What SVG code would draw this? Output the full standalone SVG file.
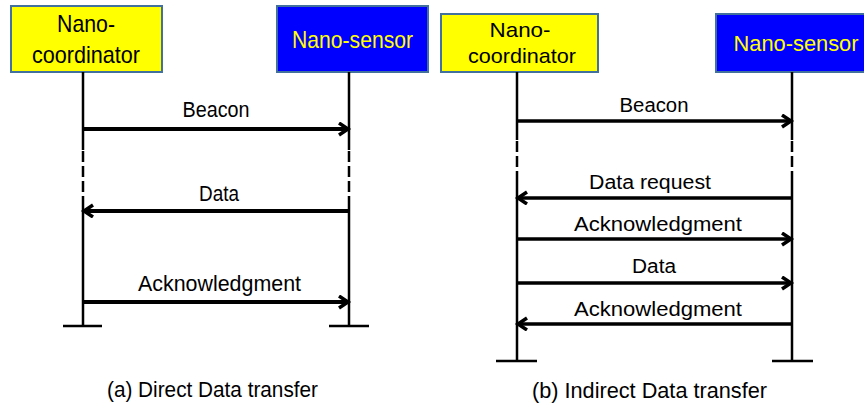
<svg xmlns="http://www.w3.org/2000/svg" width="864" height="410" viewBox="0 0 864 410">
<defs>
<style>
.t{font-family:"Liberation Sans",Arial,sans-serif;fill:#000;text-anchor:middle}
.y{fill:#ffff00;stroke:#41719c;stroke-width:2}
.b{fill:#0000ff;stroke:#41719c;stroke-width:2}
.ty{fill:#ffff00}
.life{stroke:#000;stroke-width:2.5;fill:none}
.dash{stroke:#000;stroke-width:2.5;fill:none;stroke-dasharray:11 4}
.msg{stroke:#000;stroke-width:4;fill:none;marker-end:url(#ah)}
.msg2{stroke:#000;stroke-width:3.5;fill:none;marker-end:url(#ah)}
.bar{stroke:#000;stroke-width:2.5}
</style>
<marker id="ah" markerUnits="userSpaceOnUse" markerWidth="16" markerHeight="16" refX="11" refY="7" orient="auto">
<path d="M2,1 L11,7 L2,13" fill="none" stroke="#000" stroke-width="3.5"/>
</marker>
</defs>
<g id="a-coordinator">
<rect class="y" x="11" y="6" width="151" height="66"/>
<text class="t" x="86" y="32" font-size="24" textLength="58" lengthAdjust="spacingAndGlyphs">Nano-</text>
<text class="t" x="86" y="63" font-size="24" textLength="108" lengthAdjust="spacingAndGlyphs">coordinator</text>
</g>
<g id="a-sensor">
<rect class="b" x="277" y="6" width="151" height="66"/>
<text class="t ty" x="352.5" y="48" font-size="24" textLength="121" lengthAdjust="spacingAndGlyphs">Nano-sensor</text>
</g>
<g id="b-coordinator">
<rect class="y" x="441" y="14" width="157" height="58"/>
<text class="t" x="520" y="37" font-size="21" textLength="61" lengthAdjust="spacingAndGlyphs">Nano-</text>
<text class="t" x="522" y="63" font-size="21" textLength="108" lengthAdjust="spacingAndGlyphs">coordinator</text>
</g>
<g id="b-sensor">
<rect class="b" x="716" y="14" width="160" height="58"/>
<text class="t ty" x="796" y="51" font-size="22" textLength="125" lengthAdjust="spacingAndGlyphs">Nano-sensor</text>
</g>
<g id="lifelines">
<path class="life" d="M83,72 V150 M83,199 V326 M349,72 V150 M349,199 V326"/>
<path class="dash" d="M83,151 V199 M349,151 V199"/>
<path class="bar" d="M63,326 H102 M329,326 H369"/>
<path class="life" d="M517,72 V140 M517,180 V361 M792,72 V140 M792,180 V361"/>
<path class="dash" d="M517,141 V180 M792,141 V180"/>
<path class="bar" d="M496,361 H537 M772,361 H813"/>
</g>
<g id="connectors">
<line class="msg" x1="83" y1="129" x2="348" y2="129"/>
<line class="msg" x1="349" y1="211" x2="84" y2="211"/>
<line class="msg" x1="83" y1="302" x2="348" y2="302"/>
<line class="msg2" x1="517" y1="121" x2="791" y2="121"/>
<line class="msg2" x1="792" y1="198" x2="518" y2="198"/>
<line class="msg2" x1="517" y1="239" x2="791" y2="239"/>
<line class="msg2" x1="517" y1="283" x2="791" y2="283"/>
<line class="msg2" x1="792" y1="324" x2="518" y2="324"/>
</g>
<g id="labels">
<text class="t" x="216" y="117" font-size="22" textLength="67" lengthAdjust="spacingAndGlyphs">Beacon</text>
<text class="t" x="219" y="201" font-size="22" textLength="40" lengthAdjust="spacingAndGlyphs">Data</text>
<text class="t" x="219.5" y="291" font-size="22" textLength="163" lengthAdjust="spacingAndGlyphs">Acknowledgment</text>
<text class="t" x="654" y="112" font-size="20" textLength="69" lengthAdjust="spacingAndGlyphs">Beacon</text>
<text class="t" x="650" y="189" font-size="20" textLength="122" lengthAdjust="spacingAndGlyphs">Data request</text>
<text class="t" x="658" y="231" font-size="20" textLength="168" lengthAdjust="spacingAndGlyphs">Acknowledgment</text>
<text class="t" x="654" y="273" font-size="20" textLength="44" lengthAdjust="spacingAndGlyphs">Data</text>
<text class="t" x="658" y="316" font-size="20" textLength="168" lengthAdjust="spacingAndGlyphs">Acknowledgment</text>
<text class="t" x="212.5" y="397" font-size="22" textLength="211" lengthAdjust="spacingAndGlyphs">(a) Direct Data transfer</text>
<text class="t" x="649.5" y="398" font-size="22" textLength="235" lengthAdjust="spacingAndGlyphs">(b) Indirect Data transfer</text>
</g>
</svg>
